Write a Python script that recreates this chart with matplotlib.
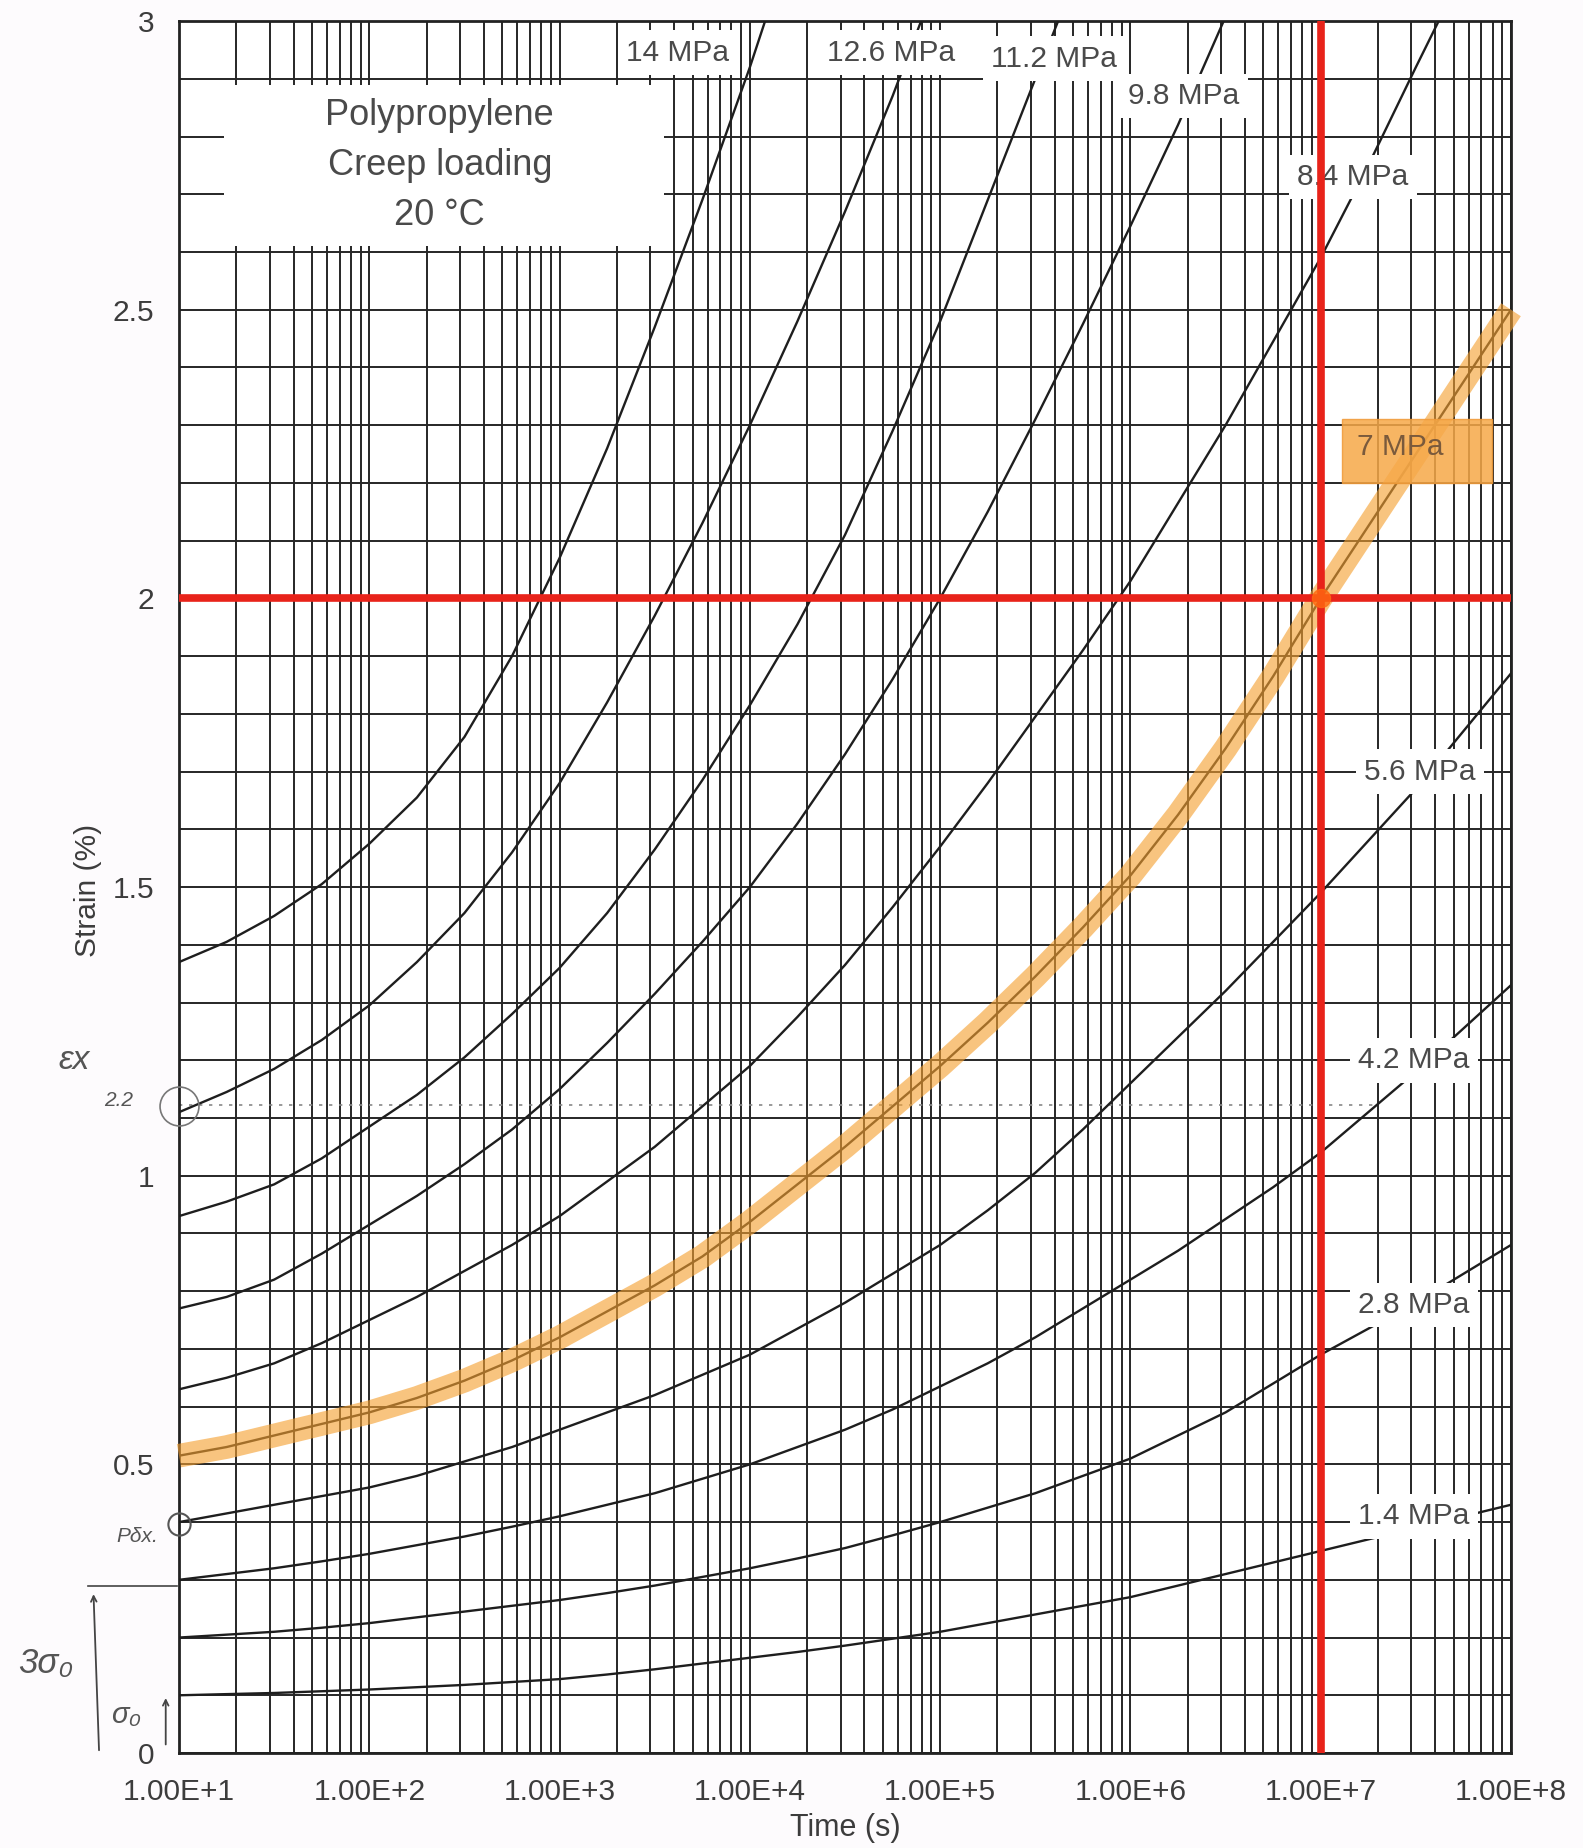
import matplotlib
matplotlib.use('Agg')
import matplotlib.pyplot as plt
from matplotlib.ticker import LogLocator, MultipleLocator, NullFormatter
from matplotlib.patches import Rectangle

plt.rcParams['font.family'] = ['Liberation Sans', 'DejaVu Sans']

# log10 of time (s), quarter decades, where the curves were read
quarter = [1.0, 1.25, 1.5, 1.75, 2.0, 2.25, 2.5, 2.75, 3.0, 3.25, 3.5, 3.75, 4.0, 4.25,
           4.5, 4.75, 5.0, 5.25, 5.5, 5.75, 6.0, 6.25, 6.5, 6.75, 7.0, 7.25, 7.5, 7.75, 8.0]

# strain (%) per stress; curves that leave through the top end at their exit time
logt_140 = quarter[:13] + [4.08]
strain_140 = [1.37, 1.405, 1.45, 1.505, 1.575, 1.655, 1.76, 1.90, 2.07, 2.26, 2.47, 2.69, 2.92, 3.0]
logt_126 = quarter[:16] + [4.9]
strain_126 = [1.11, 1.145, 1.185, 1.235, 1.295, 1.37, 1.455, 1.56, 1.68, 1.82, 1.97, 2.13,
              2.30, 2.48, 2.67, 2.87, 3.0]
logt_112 = quarter[:19] + [5.62]
strain_112 = [0.93, 0.955, 0.985, 1.03, 1.085, 1.14, 1.205, 1.28, 1.36, 1.455, 1.565, 1.685,
              1.815, 1.955, 2.11, 2.29, 2.48, 2.69, 2.90, 3.0]
logt_98 = quarter[:22] + [6.49]
strain_98 = [0.77, 0.79, 0.82, 0.865, 0.915, 0.965, 1.02, 1.08, 1.15, 1.23, 1.315, 1.405,
             1.50, 1.61, 1.73, 1.86, 2.0, 2.15, 2.31, 2.475, 2.645, 2.82, 3.0]
logt_84 = quarter[:27] + [7.62]
strain_84 = [0.63, 0.65, 0.675, 0.71, 0.75, 0.79, 0.835, 0.88, 0.93, 0.99, 1.05, 1.12,
             1.19, 1.275, 1.365, 1.465, 1.57, 1.68, 1.795, 1.91, 2.03, 2.165, 2.30, 2.445,
             2.59, 2.75, 2.92, 3.0]
strain_70 = [0.515, 0.53, 0.55, 0.57, 0.59, 0.615, 0.645, 0.68, 0.72, 0.765, 0.81, 0.86,
             0.92, 0.985, 1.05, 1.12, 1.19, 1.265, 1.345, 1.43, 1.52, 1.625, 1.74, 1.865,
             2.0, 2.125, 2.25, 2.375, 2.5]
strain_56 = [0.40, 0.415, 0.43, 0.445, 0.46, 0.48, 0.505, 0.53, 0.56, 0.59, 0.62, 0.655,
             0.69, 0.735, 0.78, 0.83, 0.88, 0.94, 1.005, 1.08, 1.16, 1.24, 1.32, 1.405,
             1.49, 1.58, 1.67, 1.77, 1.87]
strain_42 = [0.30, 0.31, 0.32, 0.332, 0.345, 0.36, 0.375, 0.392, 0.41, 0.43, 0.45, 0.475,
             0.50, 0.53, 0.56, 0.595, 0.635, 0.675, 0.72, 0.77, 0.82, 0.87, 0.925, 0.98,
             1.04, 1.11, 1.18, 1.255, 1.33]
strain_28 = [0.20, 0.205, 0.21, 0.217, 0.225, 0.235, 0.245, 0.255, 0.265, 0.277, 0.29, 0.305,
             0.32, 0.337, 0.355, 0.377, 0.40, 0.425, 0.45, 0.48, 0.51, 0.55, 0.59, 0.64,
             0.69, 0.735, 0.78, 0.83, 0.88]
strain_14 = [0.10, 0.102, 0.104, 0.107, 0.11, 0.114, 0.118, 0.123, 0.128, 0.136, 0.145, 0.155,
             0.165, 0.175, 0.186, 0.198, 0.21, 0.225, 0.24, 0.255, 0.27, 0.29, 0.31, 0.33,
             0.35, 0.37, 0.39, 0.41, 0.43]

curves = [
    (logt_140, strain_140), (logt_126, strain_126), (logt_112, strain_112),
    (logt_98, strain_98), (logt_84, strain_84), (quarter, strain_70),
    (quarter, strain_56), (quarter, strain_42), (quarter, strain_28), (quarter, strain_14),
]

labels = ['14 MPa', '12.6 MPa', '11.2 MPa', '9.8 MPa', '8.4 MPa',
          '5.6 MPa', '4.2 MPa', '2.8 MPa', '1.4 MPa']
label_logt = [3.62, 4.74, 5.60, 6.28, 7.17, 7.52, 7.49, 7.49, 7.49]
label_y = [2.945, 2.945, 2.935, 2.87, 2.73, 1.70, 1.20, 0.776, 0.41]

xtick_labels = ['1.00E+1', '1.00E+2', '1.00E+3', '1.00E+4',
                '1.00E+5', '1.00E+6', '1.00E+7', '1.00E+8']
ytick_vals = [0, 0.5, 1, 1.5, 2, 2.5, 3]
ytick_labels = ['0', '0.5', '1', '1.5', '2', '2.5', '3']

fig = plt.figure(figsize=(15.83, 18.48), dpi=100)
fig.patch.set_facecolor('#fdfbfd')
ax = fig.add_axes([0.1131, 0.0514, 0.8414, 0.9372])
ax.set_facecolor('white')
ax.set_xscale('log')
ax.set_xlim(1e1, 1e8)
ax.set_ylim(0, 3)

ax.set_xticks([10.0 ** k for k in range(1, 9)])
ax.set_xticklabels(xtick_labels)
ax.xaxis.set_minor_locator(LogLocator(base=10, subs=range(2, 10), numticks=100))
ax.xaxis.set_minor_formatter(NullFormatter())
ax.set_yticks(ytick_vals)
ax.set_yticklabels(ytick_labels)
ax.yaxis.set_minor_locator(MultipleLocator(0.1))
ax.tick_params(which='both', length=0, labelsize=21.5, colors='#3c3c3c', pad=18)
ax.grid(which='both', color='#262626', lw=1.4, zorder=1)
ax.set_axisbelow(True)
for s in ax.spines.values():
    s.set_color('#222222')
    s.set_linewidth(2)

# creep curves
for lt, st in curves:
    ax.plot([10 ** v for v in lt], st, color='#1e1e1e', lw=1.7, zorder=3)

# highlight of the 7 MPa curve
ax.plot([10 ** v for v in quarter], strain_70, color='#f5a030', lw=17, alpha=0.62,
        solid_capstyle='butt', zorder=4, clip_on=False)

# labels on white boxes
for txt, lt, yy in zip(labels, label_logt, label_y):
    ax.text(10 ** lt, yy, txt, fontsize=21.5, color='#4a4a4a', ha='center', va='center',
            bbox=dict(facecolor='white', edgecolor='none', pad=6), zorder=5)

ax.add_patch(Rectangle((10 ** 1.235, 2.61), 10 ** 3.55 - 10 ** 1.235, 0.28,
                       facecolor='white', edgecolor='none', zorder=5))
ax.text(10 ** 2.37, 2.75, 'Polypropylene\nCreep loading\n20 °C', fontsize=26, color='#4a4a4a',
        ha='center', va='center', linespacing=1.55, zorder=6)

# 7 MPa box
ax.add_patch(Rectangle((10 ** 7.11, 2.20), 10 ** 7.90 - 10 ** 7.11, 0.11,
                       facecolor='#f6a848', edgecolor='#f09a38', alpha=0.85, zorder=5))
ax.text(10 ** 7.42, 2.262, '7 MPa', fontsize=21.5, color='#7a5a3c', ha='center', va='center',
        zorder=6)

# red reading lines
ax.axhline(2.0, color='#e8231a', lw=5.5, zorder=6)
ax.axvline(1e7, color='#e8231a', lw=5.5, zorder=6)
ax.plot([1e7], [2.0], 'o', color='#ff6a10', ms=13, alpha=0.8, zorder=7)

# handwritten notes
hand = dict(color='#555555', fontstyle='italic', clip_on=False, zorder=6)
ax.plot([10, 10 ** 7.3], [1.123, 1.123], color='#888888', lw=1.2, ls=(0, (2, 4)), zorder=2)
ax.plot([10], [1.12], 'o', ms=28, mfc='none', mec='#777777', mew=1.2, ls='none',
        clip_on=False, zorder=6)
ax.plot([10], [0.396], 'o', ms=16, mfc='none', mec='#555555', mew=1.5, ls='none',
        clip_on=False, zorder=6)
ax.text(10 ** 0.45, 1.20, 'εx', fontsize=24, ha='center', va='center', **hand)
ax.text(10 ** 0.68, 1.13, '2.2', fontsize=15, ha='center', va='center', **hand)
ax.text(10 ** 0.78, 0.375, 'Pδx.', fontsize=15, ha='center', va='center', **hand)
ax.text(10 ** 0.30, 0.155, '3σ₀', fontsize=25, ha='center', va='center', **hand)
ax.text(10 ** 0.72, 0.065, 'σ₀', fontsize=21, ha='center', va='center', **hand)
ax.plot([10 ** 0.52, 10 ** 0.99], [0.29, 0.29], color='#444444', lw=1.2, clip_on=False)
ax.annotate('', xy=(10 ** 0.55, 0.28), xytext=(10 ** 0.58, 0.0),
            arrowprops=dict(arrowstyle='->', color='#444444', lw=1.3), annotation_clip=False)
ax.annotate('', xy=(10 ** 0.93, 0.10), xytext=(10 ** 0.93, 0.01),
            arrowprops=dict(arrowstyle='->', color='#444444', lw=1.3), annotation_clip=False)

ax.set_xlabel('Time (s)', fontsize=22, color='#3c3c3c', va='center')
ax.set_ylabel('Strain (%)', fontsize=21.5, color='#3c3c3c', va='center')
ax.xaxis.set_label_coords(0.5, -0.0435)
ax.yaxis.set_label_coords(-0.068, 0.498)

fig.savefig('out.png', dpi=100, facecolor=fig.get_facecolor())
